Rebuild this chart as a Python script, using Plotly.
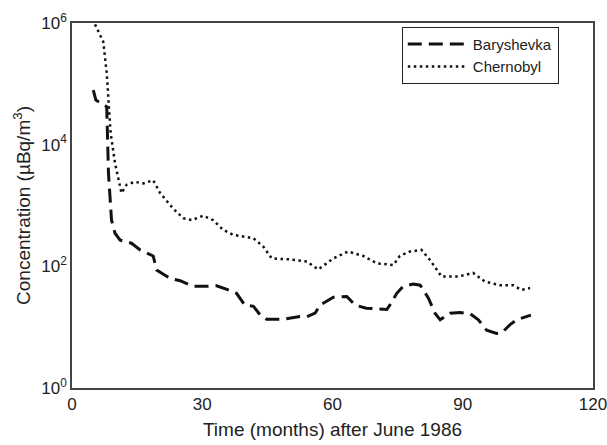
import plotly.graph_objects as go

# Chernobyl (dotted) - months after June 1986, concentration uBq/m3
chern_t = [5.3, 7.2, 8.0, 8.6, 8.9, 9.9, 11.4, 12.6, 14.5, 16.4, 18.7, 20.3, 23.3, 25.6,
           27.6, 30.2, 32.5, 34.8, 37.1, 41.8, 44.1, 46.0, 50.2, 54.1, 56.7, 60.2, 63.6,
           67.1, 70.2, 74.0, 75.5, 77.8, 80.5, 82.5, 85.1, 89.0, 92.4, 95.1, 98.6, 101.6,
           103.5, 105.5]
chern_c = [9.5e5, 4.9e5, 1.5e5, 3.7e4, 1.55e4, 5.0e3, 1.6e3, 2.2e3, 2.45e3, 2.3e3, 2.6e3,
           1.6e3, 890, 620, 575, 680, 575, 400, 330, 290, 210, 135, 130, 120, 89, 135,
           175, 148, 112, 105, 148, 175, 186, 126, 68, 68, 78, 56, 49, 49, 41, 44]

# Baryshevka (dashed)
bary_t = [4.9, 5.5, 8.0, 8.4, 9.1, 9.9, 11.1, 13.7, 15.7, 18.7, 19.5, 22.6, 24.9, 27.9,
          31.0, 33.3, 36.0, 37.9, 39.8, 41.8, 43.3, 44.8, 48.7, 52.5, 54.1, 56.0, 57.1,
          60.2, 63.3, 65.2, 67.8, 72.5, 73.2, 74.8, 76.3, 78.6, 80.2, 82.1, 83.6, 84.8,
          87.1, 89.4, 91.7, 93.6, 95.5, 97.8, 99.0, 100.9, 102.4, 104.7, 105.7]
bary_c = [7.9e4, 5.4e4, 4.2e4, 3.4e3, 580, 350, 270, 240, 186, 148, 87, 63, 58, 47,
          47, 48, 41, 36, 23, 22, 16, 13.5, 13.5, 15, 14.8, 17, 23, 31, 32, 23, 20.5,
          19.5, 23, 36, 47, 51, 49, 30, 17, 13.2, 17, 17.4, 16.6, 13.2, 8.9, 7.9, 8.1,
          11, 13.2, 14.8, 15.8]

fig = go.Figure()
fig.add_trace(go.Scatter(x=bary_t, y=bary_c, mode='lines', name='Baryshevka',
                         line=dict(color='#111', width=3, dash='14px,7px')))
fig.add_trace(go.Scatter(x=chern_t, y=chern_c, mode='lines', name='Chernobyl',
                         line=dict(color='#111', width=2.5, dash='2.5px,3.5px')))

fig.update_layout(
    width=607, height=445,
    margin=dict(l=72, r=14, t=23, b=57),
    plot_bgcolor='white', paper_bgcolor='white',
    font=dict(family='Liberation Sans, Arial, sans-serif', size=16, color='#222'),
    showlegend=True,
    legend=dict(x=0.633, y=0.99, xanchor='left', yanchor='top',
                bordercolor='#222', borderwidth=1, bgcolor='white',
                font=dict(size=15), tracegroupgap=0, itemwidth=60),
)
fig.update_xaxes(range=[0, 120], tickvals=[0, 30, 60, 90, 120], showgrid=False,
                 zeroline=False, showline=True, mirror=True, linecolor='#444',
                 linewidth=1.5, ticks='', automargin=False, ticklabeloverflow='allow',
                 tickfont=dict(size=17),
                 title=dict(text='Time (months) after June 1986', standoff=10))
fig.update_yaxes(type='log', range=[0, 6], tickvals=[1, 100, 1e4, 1e6],
                 ticktext=['10<sup>0</sup>', '10<sup>2</sup>', '10<sup>4</sup>', '10<sup>6</sup>'],
                 showgrid=False, zeroline=False, showline=True, mirror=True,
                 linecolor='#444', linewidth=1.5, ticks='', automargin=False,
                 tickfont=dict(size=17),
                 title=dict(text='Concentration (µBq/m<sup>3</sup>)', standoff=6))

# drop the default page margin so the figure fills the window exactly
fig.write_html("out.html", config={'displayModeBar': False},
               post_script="document.body.style.margin='0';document.body.style.overflow='hidden';")
